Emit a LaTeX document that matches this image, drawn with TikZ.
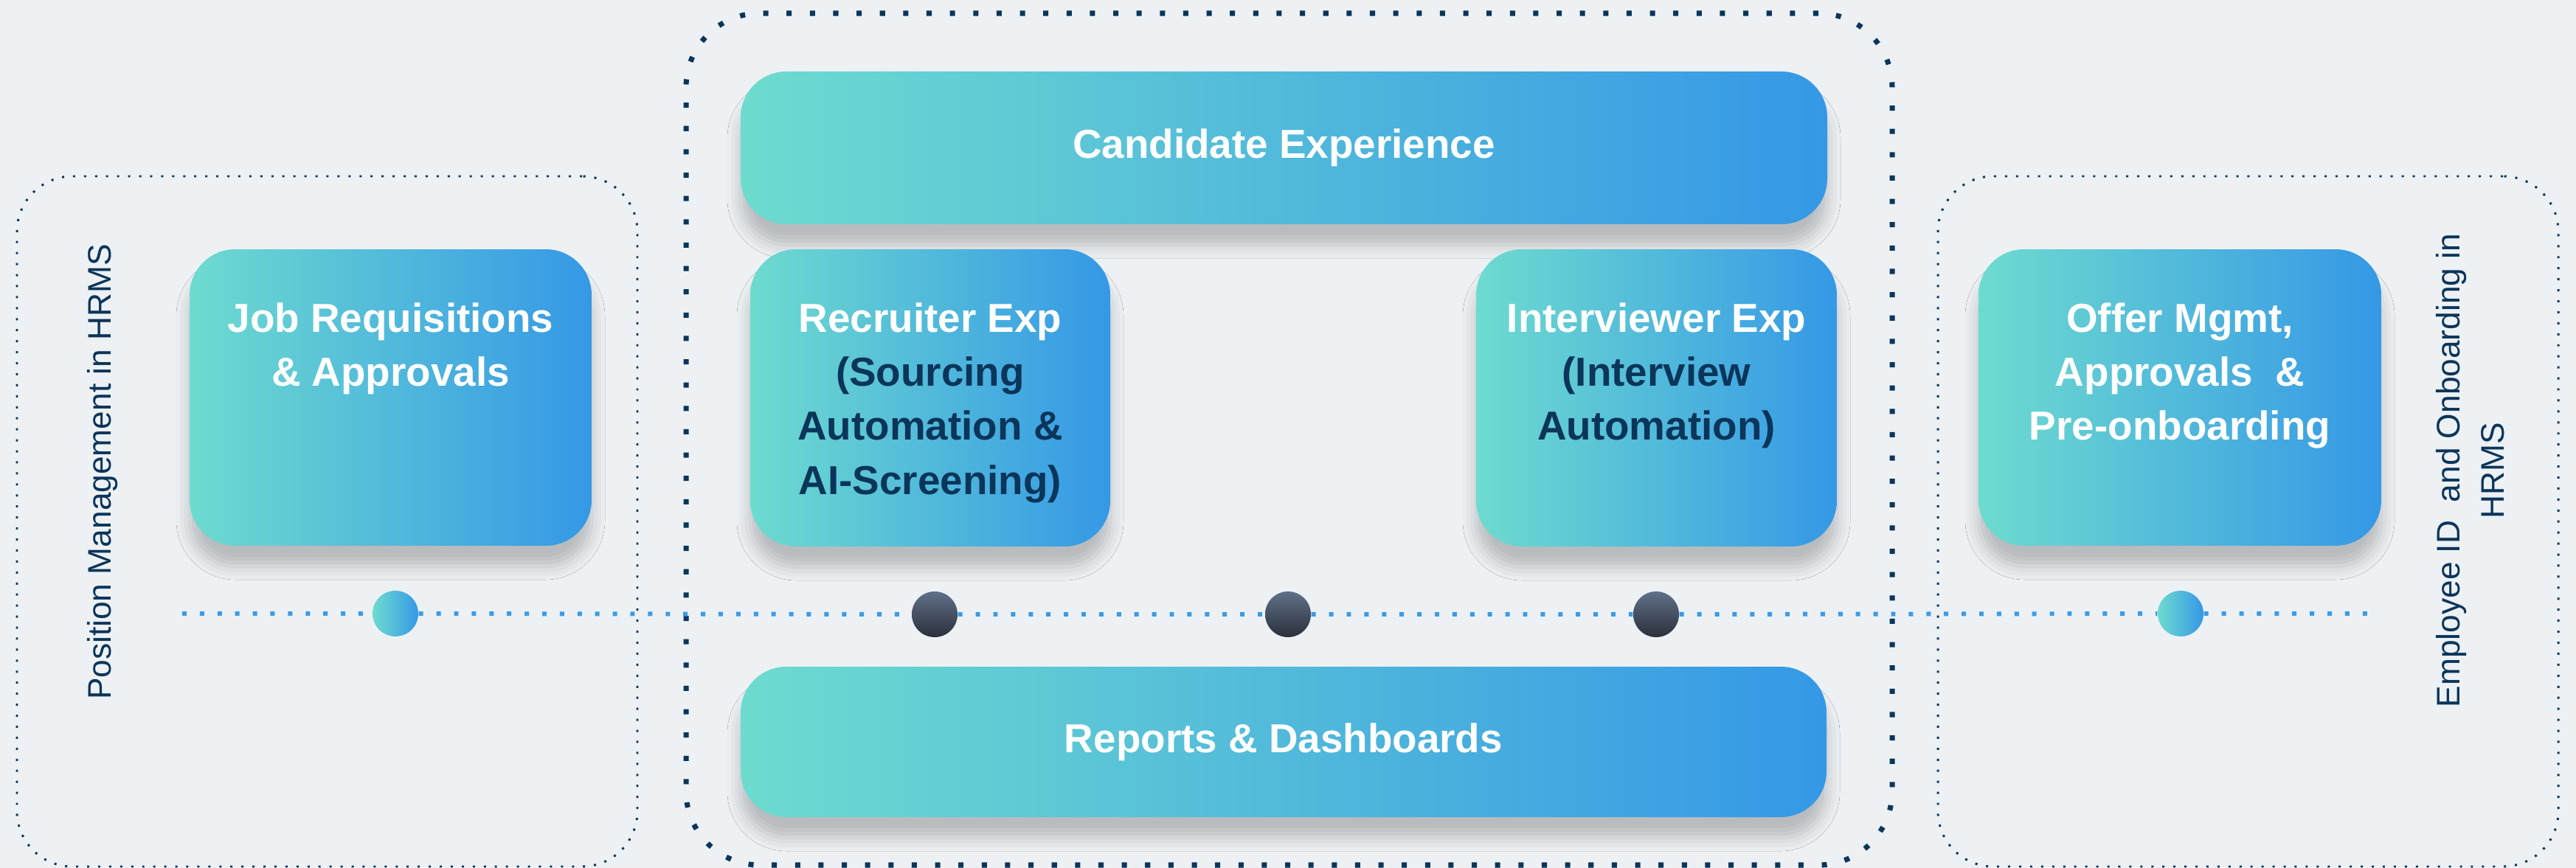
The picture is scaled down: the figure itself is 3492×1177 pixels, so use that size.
\documentclass[tikz,border=0pt]{standalone}
\usepackage{fontspec}
\setmainfont{Liberation Sans}
\usepackage{tikz}
\usetikzlibrary{positioning, shadows.blur}

\definecolor{pageBg}{HTML}{EDF1F4}
\definecolor{tealL}{HTML}{6EDBCF}
\definecolor{blueR}{HTML}{3598E6}
\definecolor{navy}{HTML}{0B3559}
\definecolor{dotTop}{HTML}{60708A}
\definecolor{dotBot}{HTML}{2B313A}
\definecolor{lineBlue}{HTML}{3A9BE8}

\tikzset{
  tile/.style={left color=tealL, right color=blueR, draw=none, rounded corners=6.2mm,
    blur shadow={shadow xshift=0mm, shadow yshift=-2.8mm, shadow blur radius=1.8mm, shadow opacity=22}},
  boxtext/.style={text=white, align=center, inner sep=0pt, font=\bfseries\fontsize{15.6pt}{20.8pt}\selectfont},
  frame/.style={draw=navy, line width=0.85pt, dash pattern=on 0.85pt off 3.4pt, rounded corners=7.5mm,
    minimum width=84.1mm, minimum height=93.6mm},
  bigframe/.style={draw=navy, line width=2pt, dash pattern=on 2pt off 7pt, rounded corners=10mm},
  sidetext/.style={text=navy, rotate=90, align=center, inner sep=0pt, font=\fontsize{12.6pt}{17pt}\selectfont},
  stop/.style={circle, minimum size=6.2mm, inner sep=0pt},
  hrmsdot/.style={stop, left color=tealL, right color=blueR},
  atsdot/.style={stop, top color=dotTop, bottom color=dotBot},
  timeline/.style={lineBlue, line width=1.7pt, dash pattern=on 1.7pt off 5.1pt}
}

\begin{document}
\begin{tikzpicture}[x=0.1mm, y=-0.1mm]
  \fill [pageBg] (0,0) rectangle (3492,1177);
  \useasboundingbox (0,0) rectangle (3492,1177);

  % dotted frames: HRMS on both sides, ATS in the middle
  \node [frame] (hrmsLeft) at (443.5,707) {};
  \node [bigframe, minimum width=163.5mm, minimum height=115.5mm] (ats) at (1747.5,595.5) {};
  \node [frame] (hrmsRight) at (3047.5,707) {};

  \node [sidetext] (posText) at (139,640) {Position Management in HRMS};
  \node [sidetext] (empText) at (3349,638) {Employee ID\ \ and Onboarding in\\HRMS};

  % timeline with its stops
  \coordinate (tlStart) at (247,832);
  \coordinate (tlEnd) at (3226,832);
  \node [hrmsdot] (reqDot) at (536,832) {};
  \node [atsdot] (srcDot) at (1267,833) {};
  \node [atsdot] (midDot) at (1746,833) {};
  \node [atsdot] (intDot) at (2245,833) {};
  \node [hrmsdot] (offDot) at (2956,832) {};
  \draw [timeline] (tlStart) -- (reqDot) -- (srcDot) -- (midDot) -- (intDot) -- (offDot) -- (tlEnd);

  % tiles
  \node [tile, minimum width=54.5mm, minimum height=40.2mm] (jobBox) at (529.5,539) {};
  \node [tile, minimum width=147.3mm, minimum height=20.7mm] (candBox) at (1740.5,200.5) {};
  \node [tile, minimum width=48.8mm, minimum height=40.3mm] (recBox) at (1261,539.5) {};
  \node [tile, minimum width=48.9mm, minimum height=40.3mm] (intBox) at (2245.5,539.5) {};
  \node [tile, minimum width=54.6mm, minimum height=40.2mm] (offerBox) at (2955,539) {};
  \node [tile, minimum width=147.2mm, minimum height=20.4mm] (repBox) at (1740,1006) {};

  \node [boxtext] (candText) at (candBox) {Candidate Experience};
  \node [boxtext] (repText) at (repBox) {Reports \& Dashboards};
  \node [boxtext, below=7.3mm of jobBox.north] (jobText) {Job Requisitions\\\& Approvals};
  \node [boxtext, below=7.3mm of recBox.north] (recText) {Recruiter Exp\\\textcolor{navy}{(Sourcing}\\\textcolor{navy}{Automation \&}\\\textcolor{navy}{AI-Screening)}};
  \node [boxtext, below=7.3mm of intBox.north] (intText) {Interviewer Exp\\\textcolor{navy}{(Interview}\\\textcolor{navy}{Automation)}};
  \node [boxtext, below=7.3mm of offerBox.north] (offerText) {Offer Mgmt,\\Approvals\ \ \&\\Pre-onboarding};
\end{tikzpicture}
\end{document}
